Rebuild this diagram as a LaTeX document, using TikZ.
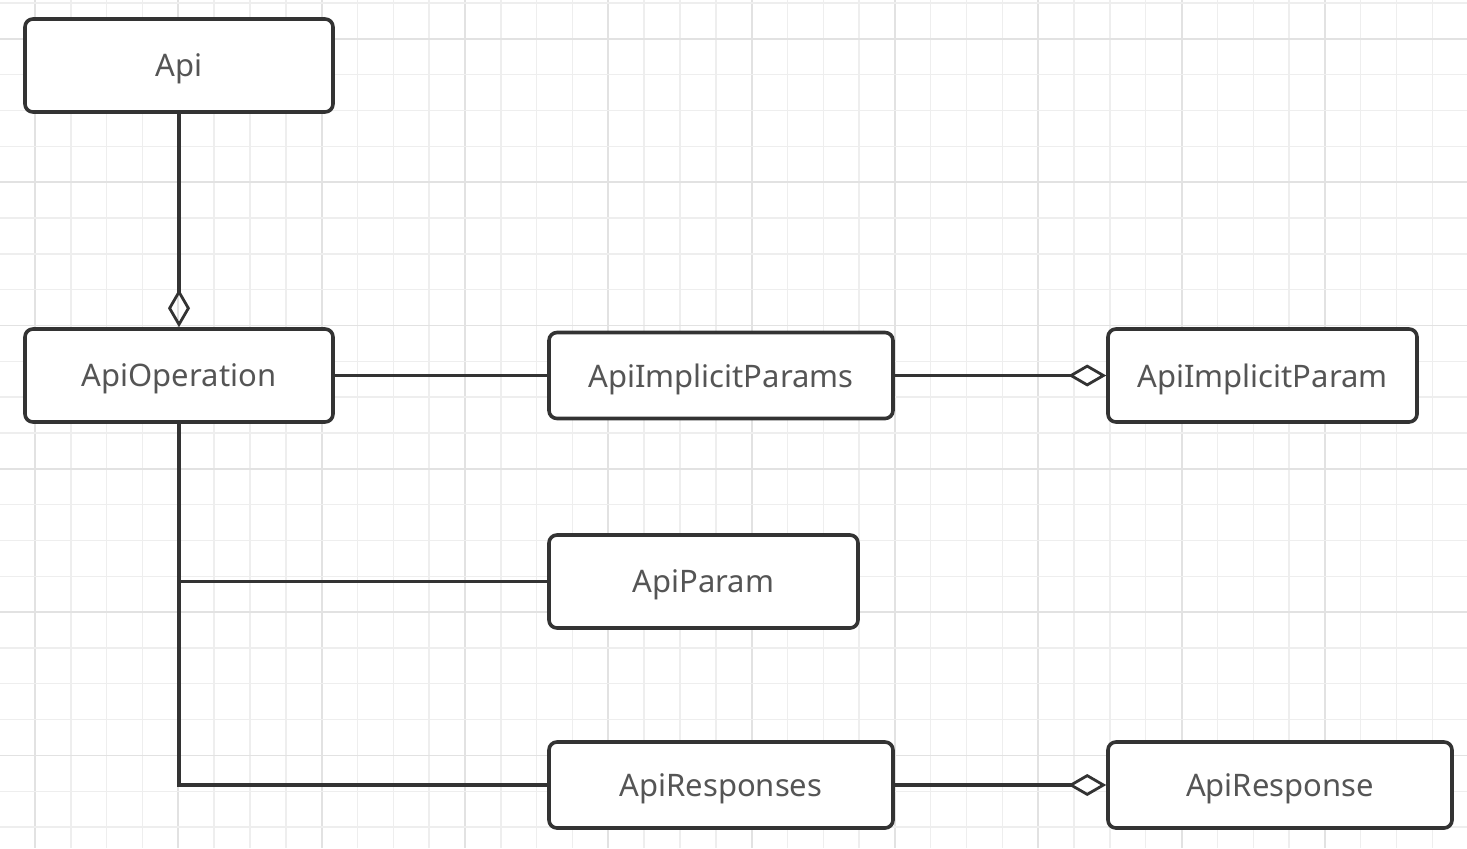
\documentclass[tikz,border=0pt]{standalone}
\usepackage{fontspec}
\setmainfont{Noto Sans}
\usepackage{tikz}
\tikzset{>=latex}
\usetikzlibrary{arrows.meta,positioning}
\definecolor{linecol}{HTML}{333333}
\definecolor{textcol}{HTML}{555555}
\definecolor{gridminor}{HTML}{EEEEEE}
\definecolor{gridmajor}{HTML}{E2E2E2}
\tikzset{
  cls/.style={draw=linecol,line width=1.8pt,rounded corners=4pt,fill=white,
    text=textcol,font=\fontsize{15.5}{18}\selectfont,inner sep=0pt,text depth=0pt},
  link/.style={draw=linecol,line width=1.7pt},
  aggr/.style={-{Diamond[open,length=19pt,width=11pt,line width=1.4pt]}}
}

\begin{document}
\begin{tikzpicture}[x=0.5pt,y=-0.5pt]
                \useasboundingbox (0,0) rectangle (1467,848);
                \fill[white] (0,0) rectangle (1467,848);
                % background grid
                \foreach \k in {0,...,41} {
                    \pgfmathsetmacro{\gx}{-0.8+35.83*\k}
                    \pgfmathtruncatemacro{\m}{mod(\k,4)}
                    \ifnum\m=1
                        \draw[gridmajor,line width=0.9pt] (\gx,0) -- (\gx,848);
                    \else
                        \draw[gridminor,line width=0.7pt] (\gx,0) -- (\gx,848);
                    \fi
                }
                \foreach \k in {0,...,23} {
                    \pgfmathsetmacro{\gy}{3+35.83*\k}
                    \pgfmathtruncatemacro{\m}{mod(\k,4)}
                    \ifnum\m=1
                        \draw[gridmajor,line width=0.9pt] (0,\gy) -- (1467,\gy);
                    \else
                        \draw[gridminor,line width=0.7pt] (0,\gy) -- (1467,\gy);
                    \fi
                }
                % classes
                \node[cls,minimum width=154pt,minimum height=46.5pt] (api) at (179,65.5) {Api};
                \node[cls,minimum width=154pt,minimum height=46.5pt] (apiop) at (179,375.5) {ApiOperation};
                \node[cls,minimum width=172pt,minimum height=43pt] (implparams) at (721,375.5) {ApiImplicitParams};
                \node[cls,minimum width=154.5pt,minimum height=46.5pt] (implparam) at (1262.5,375.5) {ApiImplicitParam};
                \node[cls,minimum width=154.5pt,minimum height=46.5pt] (param) at (703.5,581.5) {ApiParam};
                \node[cls,minimum width=172pt,minimum height=43pt] (responses) at (721,785) {ApiResponses};
                \node[cls,minimum width=172pt,minimum height=43pt] (response) at (1280,785) {ApiResponse};
                % relations
                \draw[link,aggr] (api) -- (apiop);
                \draw[link] (apiop) -- (implparams);
                \draw[link,aggr] (implparams) -- (implparam);
                \draw[link] (apiop.south) |- (responses.west);
                \draw[link] (apiop.south |- param.west) -- (param.west);
                \draw[link,aggr] (responses) -- (response);
            \end{tikzpicture}
\end{document}
